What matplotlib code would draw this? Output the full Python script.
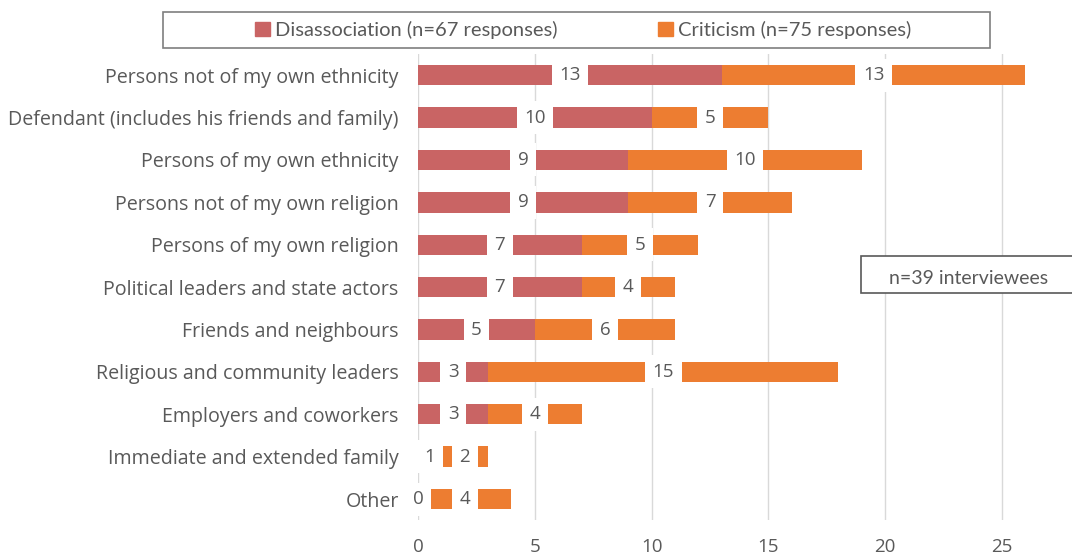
import numpy as np
import matplotlib
matplotlib.use('Agg')
import matplotlib.pyplot as plt
from matplotlib.patches import Rectangle

# data (top to bottom)
categories = [
    'Persons not of my own ethnicity',
    'Defendant (includes his friends and family)',
    'Persons of my own ethnicity',
    'Persons not of my own religion',
    'Persons of my own religion',
    'Political leaders and state actors',
    'Friends and neighbours',
    'Religious and community leaders',
    'Employers and coworkers',
    'Immediate and extended family',
    'Other',
]
disassociation = [13, 10, 9, 9, 7, 7, 5, 3, 3, 1, 0]
criticism = [13, 5, 10, 7, 5, 4, 6, 15, 4, 2, 4]
series_names = ['Disassociation (n=67 responses)', 'Criticism (n=75 responses)']
x_ticks = [0, 5, 10, 15, 20, 25]
note_text = 'n=39 interviewees'

dis_color = '#C96464'
crit_color = '#ED7D31'
label_color = '#595959'

plt.rcParams['font.family'] = ['Open Sans', 'DejaVu Sans']

fig = plt.figure(figsize=(10.72, 5.57), dpi=100)
ax = fig.add_axes([0.39, 0.066, 0.61, 0.837])

y = np.arange(len(categories))
dis = np.array(disassociation)
crit = np.array(criticism)

ax.barh(y, dis, height=0.48, color=dis_color, zorder=2)
ax.barh(y, crit, left=dis, height=0.48, color=crit_color, zorder=2)

# data labels sit in the middle of each segment on a white box
box = dict(boxstyle='square,pad=0.4', facecolor='white', edgecolor='none')
for i in range(len(categories)):
    ax.text(dis[i] / 2, y[i], str(dis[i]), ha='center', va='center',
            fontsize=13.5, color=label_color, bbox=box, zorder=3)
    ax.text(dis[i] + crit[i] / 2, y[i], str(crit[i]), ha='center', va='center',
            fontsize=13.5, color=label_color, bbox=box, zorder=3)

ax.set_xlim(0, 28)
ax.set_ylim(len(categories) - 0.5, -0.5)
ax.set_xticks(x_ticks)
ax.set_yticks(y)
ax.set_yticklabels(categories, fontsize=14.1, color=label_color)
ax.tick_params(axis='x', labelsize=13.5, labelcolor=label_color, length=0, pad=13)
ax.tick_params(axis='y', length=0, pad=14)
ax.grid(axis='x', color='#D9D9D9', linewidth=1, zorder=0)
ax.set_axisbelow(True)
for s in ax.spines.values():
    s.set_visible(False)

# framed box at the top holding the legend
fig.patches.append(Rectangle((163 / 1072, 1 - 48 / 557), (990 - 163) / 1072, 36 / 557,
                             transform=fig.transFigure, facecolor='white',
                             edgecolor='#7F7F7F', linewidth=1.2, zorder=1))
handles = [Rectangle((0, 0), 1, 1, color=dis_color), Rectangle((0, 0), 1, 1, color=crit_color)]
leg = fig.legend(handles, series_names, loc='center left', bbox_to_anchor=(255 / 1072, 1 - 30 / 557),
                 ncol=2, frameon=False, borderpad=0, borderaxespad=0,
                 handlelength=0.75, handleheight=0.75, handletextpad=0.25,
                 columnspacing=5.0, prop={'family': 'Lato', 'size': 14.5})
for t in leg.get_texts():
    t.set_color(label_color)

# note box on the right, cut by the figure edge
fig.patches.append(Rectangle((861 / 1072, 1 - 293 / 557), 0.3, 37 / 557,
                             transform=fig.transFigure, facecolor='white',
                             edgecolor='#595959', linewidth=1.2, zorder=5))
fig.text(889 / 1072, 1 - 279 / 557, note_text, fontsize=14, family='Lato',
         color=label_color, va='center', ha='left', zorder=6)

fig.savefig('out.png', dpi=100)
